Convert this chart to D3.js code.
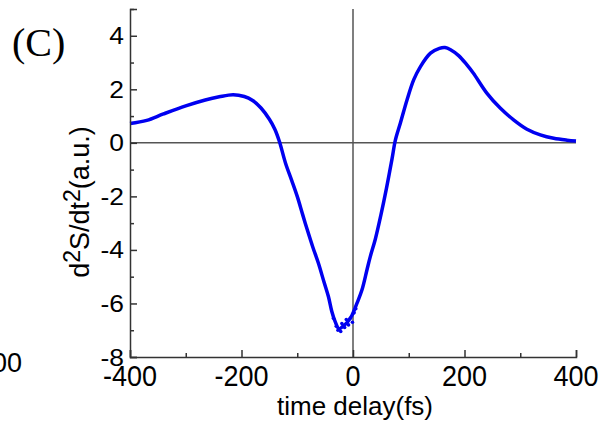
<!DOCTYPE html>
<html><head><meta charset="utf-8">
<script src="https://cdn.jsdelivr.net/npm/d3@7"></script>
<style>body{margin:0;background:#fff}svg{display:block}</style>
</head><body>
<svg id="c" width="614" height="430"></svg>
<script>
const delays = [-400,-370,-340,-300,-265,-240,-215,-195,-180,-165,-150,-140,-132,-121,-110,-100,-90,-82,-72,-62,-52,-44,-38,-32,-25,-18,-10,-2,7,16,25,31,40,50,60,70,76,85,97,109,121,139,155,165,175,190,204,216,240,264,288,312,336,360,384,400];
const signal = [0.72,0.84,1.08,1.38,1.6,1.72,1.8,1.73,1.58,1.3,0.88,0.5,0.05,-0.76,-1.4,-2.0,-2.7,-3.25,-3.9,-4.5,-5.2,-5.75,-6.3,-6.68,-6.95,-6.85,-6.7,-6.45,-6.0,-5.5,-4.75,-4.25,-3.6,-2.7,-1.7,-0.6,0.1,0.74,1.61,2.36,2.85,3.35,3.53,3.56,3.48,3.25,2.92,2.6,1.86,1.3,0.86,0.51,0.3,0.17,0.1,0.07];
// scattered points around the trough
const scatterDelays = [-35,-30,-27,-22,-20,-15,-12,-8,-5,-1,2,5];
const scatterSignal = [-6.55,-6.85,-7.0,-7.05,-6.75,-6.9,-6.6,-6.8,-6.55,-6.7,-6.35,-6.2];
const xMajor = [-400,-200,0,200,400];
const xMinor = [-300,-100,100,300];
const yMajor = [-8,-6,-4,-2,0,2,4];
const yMinor = [-7,-5,-3,-1,1,3,5];

const svg = d3.select("#c");
const x = d3.scaleLinear().domain([-400,400]).range([130,576]);
const y = d3.scaleLinear().domain([-8,5]).range([357,9]);
const axisColor = "#333";
const font = "'Liberation Sans', Arial, sans-serif";
const blue = "#0000f0";

// zero lines
svg.append("line").attr("x1",x(-400)).attr("x2",x(400)).attr("y1",y(0)).attr("y2",y(0)).attr("stroke","#555").attr("stroke-width",1.5);
svg.append("line").attr("x1",x(0)).attr("x2",x(0)).attr("y1",y(5)).attr("y2",y(-8)).attr("stroke","#555").attr("stroke-width",1.5);

// data line
const data = delays.map((d,i)=>({t:d,v:signal[i]}));
svg.append("path").datum(data)
  .attr("d", d3.line().x(d=>x(d.t)).y(d=>y(d.v)).curve(d3.curveCatmullRom))
  .attr("fill","none").attr("stroke",blue).attr("stroke-width",3.5);
svg.selectAll("circle.s").data(scatterDelays.map((d,i)=>({t:d,v:scatterSignal[i]}))).enter()
  .append("circle").attr("cx",d=>x(d.t)).attr("cy",d=>y(d.v)).attr("r",1.8).attr("fill",blue);

// axes
svg.append("g").attr("transform",`translate(0,${y(-8)})`)
  .call(d3.axisBottom(x).tickValues(xMajor).tickSize(-7).tickFormat(""));
svg.append("g").attr("transform",`translate(0,${y(-8)})`)
  .call(d3.axisBottom(x).tickValues(xMinor).tickSize(-4).tickFormat(""))
  .select(".domain").remove();
svg.append("g").attr("transform",`translate(${x(-400)},0)`)
  .call(d3.axisLeft(y).tickValues(yMajor).tickSize(-7).tickFormat(""));
svg.append("g").attr("transform",`translate(${x(-400)},0)`)
  .call(d3.axisLeft(y).tickValues(yMinor).tickSize(-4).tickFormat(""))
  .select(".domain").remove();
svg.selectAll(".domain").attr("stroke",axisColor).attr("stroke-width",1.5);
svg.selectAll(".tick line").attr("stroke",axisColor).attr("stroke-width",1.5);

// tick labels
svg.selectAll("text.xl").data(xMajor).enter().append("text")
  .attr("transform",d=>`translate(${x(d)},386) scale(1,1.1)`)
  .attr("text-anchor","middle").attr("font-family",font).attr("font-size",27)
  .text(d=>d);
svg.selectAll("text.yl").data(yMajor).enter().append("text")
  .attr("transform",d=>`translate(124,${y(d)+8.5}) scale(1.1,1)`)
  .attr("text-anchor","end").attr("font-family",font).attr("font-size",24)
  .text(d=>d);

// axis titles
svg.append("text").attr("x",355).attr("y",415).attr("text-anchor","middle")
  .attr("font-family",font).attr("font-size",26).text("time delay(fs)");
const yt = svg.append("text").attr("transform","translate(89,202) rotate(-90)")
  .attr("text-anchor","middle").attr("font-family",font).attr("font-size",27);
yt.append("tspan").text("d");
yt.append("tspan").attr("dy",-9).attr("font-size",23).text("2");
yt.append("tspan").attr("dy",9).text("S/dt");
yt.append("tspan").attr("dy",-9).attr("font-size",23).text("2");
yt.append("tspan").attr("dy",9).text("(a.u.)");

// panel label
svg.append("text").attr("x",12).attr("y",56).attr("font-family","'Liberation Serif','Times New Roman',serif")
  .attr("font-size",40).text("(C)");
// fragment of neighbouring panel
svg.append("text").attr("x",22).attr("y",372).attr("text-anchor","end").attr("font-family",font)
  .attr("font-size",27).text("400");
</script>
</body></html>
